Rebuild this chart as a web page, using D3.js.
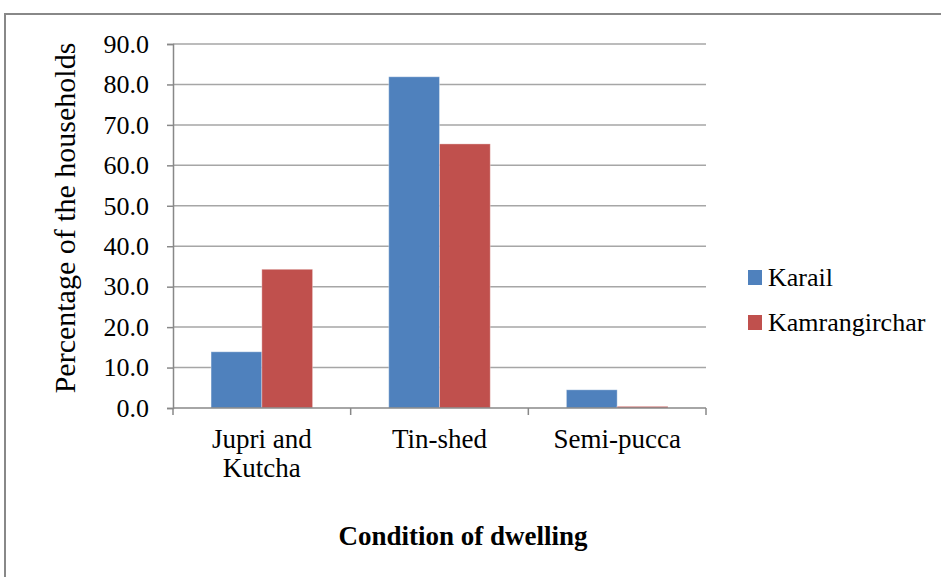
<!DOCTYPE html>
<html><head><meta charset="utf-8">
<script src="https://cdn.jsdelivr.net/npm/d3@7"></script>
<style>body{margin:0;background:#fff}svg{display:block}text{font-family:"Liberation Serif","Times New Roman",serif;fill:#000}</style>
</head><body>
<svg id="c" width="941" height="577"></svg>
<script>
const categories = [["Jupri and","Kutcha"],["Tin-shed"],["Semi-pucca"]];
const seriesNames = ["Karail","Kamrangirchar"];
const karail = [13.9, 81.9, 4.5];
const kamrangirchar = [34.3, 65.3, 0.4];
const yTicks = [0,10,20,30,40,50,60,70,80,90];
const colors = ["#4F81BD","#C0504D"];

const svg = d3.select("#c");
svg.append("rect").attr("x",5).attr("y",14).attr("width",1000).attr("height",1000)
  .attr("fill","none").attr("stroke","#888").attr("stroke-width",2);

const L=173, R=706, T=44, B=408;
const y = d3.scaleLinear().domain([0,90]).range([B,T]);
// Excel gap width 150%: each category band = 2 bars + 1.5 bar widths of gap
const x0 = d3.scaleBand().domain(d3.range(categories.length)).range([L,R]).paddingInner(0).paddingOuter(0);
const band = x0.bandwidth();
const barW = band/3.5;

// gridlines
svg.append("g").selectAll("line").data(yTicks.filter(d=>d>0)).join("line")
  .attr("x1",L).attr("x2",R).attr("y1",d=>y(d)).attr("y2",d=>y(d))
  .attr("stroke","#a6a6a6").attr("stroke-width",1.5);

// y axis
const ya = svg.append("g").attr("transform",`translate(${L},0)`)
  .call(d3.axisLeft(y).tickValues(yTicks).tickFormat(d3.format(".1f")).tickSize(6).tickPadding(18));
ya.select(".domain").attr("stroke","#888").attr("stroke-width",1.5);
ya.selectAll(".tick line").attr("stroke","#888").attr("stroke-width",1.5);
ya.selectAll("text").attr("font-size",26).attr("font-family","Liberation Serif");

// bars
const series = [karail, kamrangirchar];
series.forEach((vals,si)=>{
  svg.append("g").selectAll("rect").data(vals).join("rect")
    .attr("x",(d,i)=> x0(i) + barW*0.75 + si*barW)
    .attr("width",barW)
    .attr("y",d=>y(d)).attr("height",d=>B-y(d))
    .attr("fill",colors[si]).attr("stroke","rgba(255,255,255,0.35)").attr("stroke-width",1);
});

// x axis
svg.append("line").attr("x1",L).attr("x2",R).attr("y1",B).attr("y2",B).attr("stroke","#888").attr("stroke-width",1.5);
const bounds = d3.range(categories.length+1).map(i=>L+band*i);
svg.append("g").selectAll("line").data(bounds).join("line")
  .attr("x1",d=>d).attr("x2",d=>d).attr("y1",B).attr("y2",B+7).attr("stroke","#888").attr("stroke-width",1.5);
const xl = svg.append("g").selectAll("text").data(categories).join("text")
  .attr("text-anchor","middle").attr("font-size",27)
  .attr("transform",(d,i)=>`translate(${x0(i)+band/2},448)`);
xl.selectAll("tspan").data(d=>d).join("tspan").attr("x",0).attr("dy",(d,i)=>i?29:0).text(d=>d);

// axis titles
svg.append("text").attr("transform","translate(64,218) rotate(-90)").attr("text-anchor","middle")
  .attr("dy","0.35em").attr("font-size",30).text("Percentage of the households");
svg.append("text").attr("x",463).attr("y",545).attr("text-anchor","middle")
  .attr("font-size",27).attr("font-weight","bold").text("Condition of dwelling");

// legend
const lg = svg.append("g").selectAll("g").data(seriesNames).join("g")
  .attr("transform",(d,i)=>`translate(748,${270+i*45})`);
lg.append("rect").attr("width",14).attr("height",15).attr("fill",(d,i)=>colors[i]);
lg.append("text").attr("x",20).attr("y",16).attr("font-size",26).text(d=>d);
</script>
</body></html>
